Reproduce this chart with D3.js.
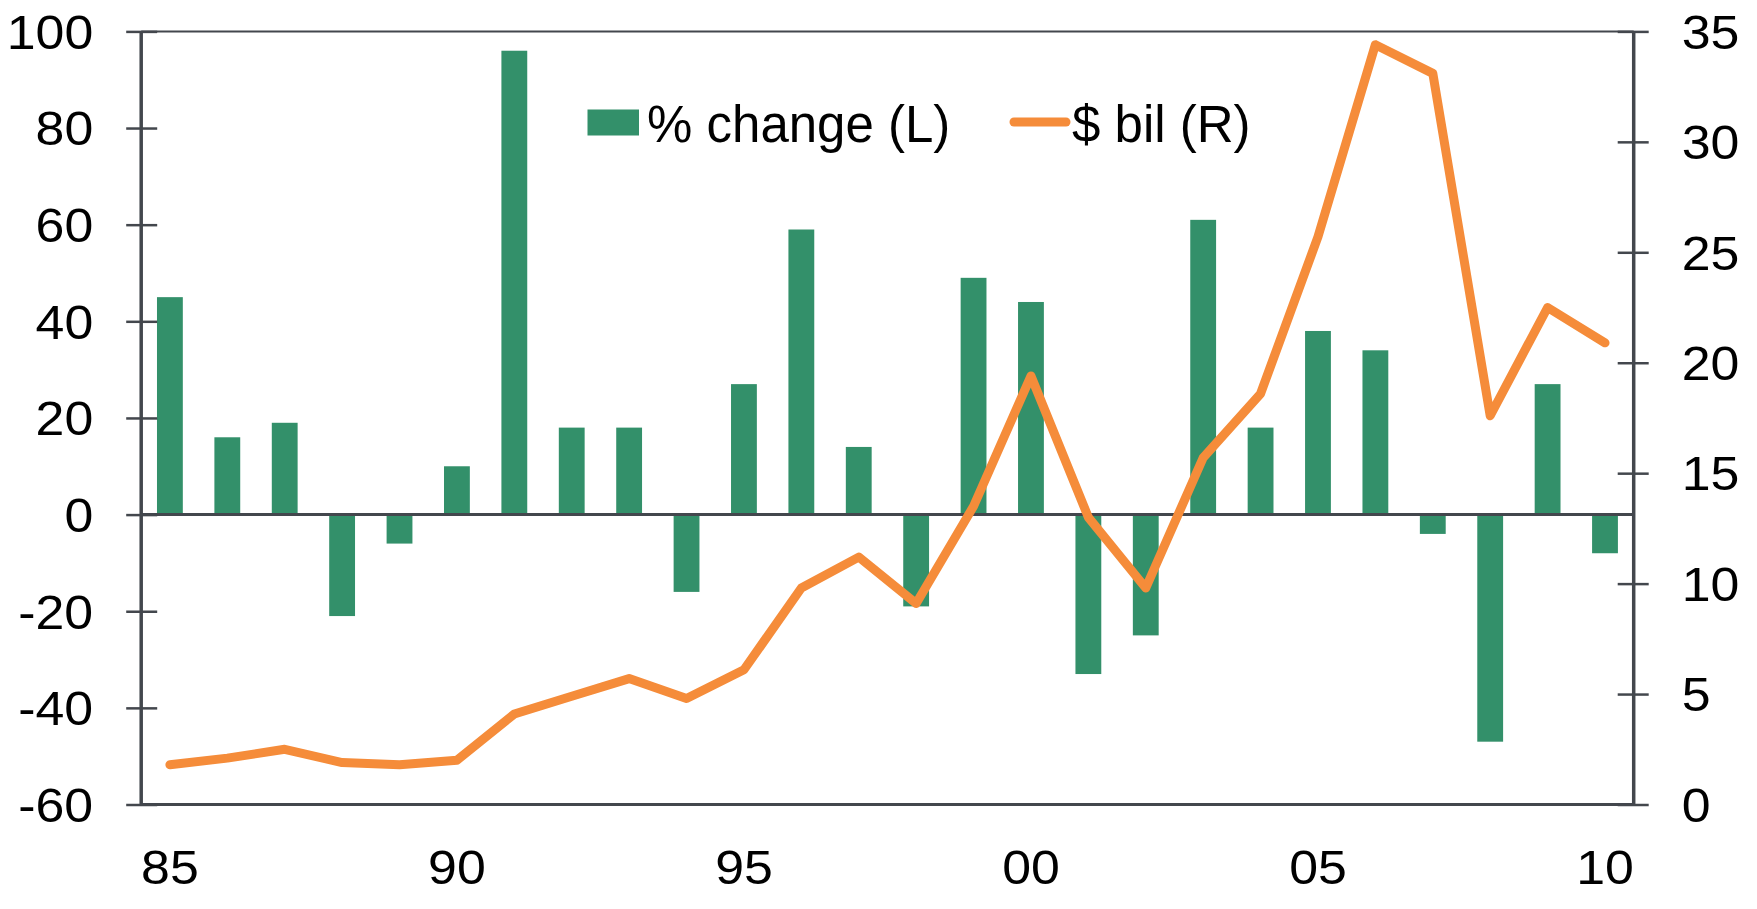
<!DOCTYPE html>
<html>
<head>
<meta charset="utf-8">
<script src="https://cdn.jsdelivr.net/npm/d3@7"></script>
<style>
  body { margin: 0; background: #fff; }
  svg { display: block; }
  .axis text { font-family: "Liberation Sans", Arial, sans-serif; font-size: 48px; fill: #000; }
  .legend text { font-family: "Liberation Sans", Arial, sans-serif; font-size: 51px; fill: #000; }
</style>
</head>
<body>
<svg id="chart" width="1757" height="909"></svg>
<script>
// data
var years = [1985, 1986, 1987, 1988, 1989, 1990, 1991, 1992, 1993, 1994, 1995, 1996, 1997,
             1998, 1999, 2000, 2001, 2002, 2003, 2004, 2005, 2006, 2007, 2008, 2009, 2010];
var pctChange = [45, 16, 19, -21, -6, 10, 96, 18, 18, -16, 27, 59, 14,
                 -19, 49, 44, -33, -25, 61, 18, 38, 34, -4, -47, 27, -8];
var dollarsBil = [1.8, 2.1, 2.5, 1.9, 1.8, 2.0, 4.1, 4.9, 5.7, 4.8, 6.1, 9.8, 11.2,
                  9.1, 13.5, 19.4, 13.0, 9.8, 15.7, 18.6, 25.7, 34.4, 33.1, 17.6, 22.5, 20.9];
var leftTicks = [-60, -40, -20, 0, 20, 40, 60, 80, 100];
var rightTicks = [0, 5, 10, 15, 20, 25, 30, 35];
var xTickYears = [1985, 1990, 1995, 2000, 2005, 2010];
var seriesNames = ["% change (L)", "$ bil (R)"];

var green = "#33906a";
var orange = "#f58c3a";
var axisColor = "#43474d";

var margin = {top: 31.4, right: 123.3, bottom: 104.5, left: 141.2};
var width = 1757 - margin.left - margin.right;
var height = 909 - margin.top - margin.bottom;
var stretch = 1.08;

var svg = d3.select("#chart");
var g = svg.append("g")
    .attr("transform", "translate(" + margin.left + "," + margin.top + ")");

var x = d3.scaleBand().domain(years).range([0, width])
    .paddingInner(0.55).paddingOuter(0.275);
var yL = d3.scaleLinear().domain([-60, 100]).range([height, 0]);
var yR = d3.scaleLinear().domain([0, 35]).range([height, 0]);

// bars
g.selectAll(".bar").data(years)
  .enter().append("rect")
    .attr("class", "bar")
    .attr("x", function(d) { return x(d); })
    .attr("width", x.bandwidth())
    .attr("y", function(d, i) { return yL(Math.max(0, pctChange[i])); })
    .attr("height", function(d, i) { return Math.abs(yL(pctChange[i]) - yL(0)); })
    .attr("fill", green);

// frame top, zero line, bottom
g.append("line")
    .attr("x1", 0).attr("x2", width)
    .attr("y1", 0).attr("y2", 0)
    .attr("stroke", axisColor).attr("stroke-width", 2);
g.append("line")
    .attr("x1", 0).attr("x2", width)
    .attr("y1", yL(0)).attr("y2", yL(0))
    .attr("stroke", axisColor).attr("stroke-width", 3);
g.append("line")
    .attr("x1", 0).attr("x2", width)
    .attr("y1", height).attr("y2", height)
    .attr("stroke", axisColor).attr("stroke-width", 3);

// axes
var plain = function(d) { return String(d); };
var yAxisL = d3.axisLeft(yL).tickValues(leftTicks).tickSize(15).tickFormat(plain);
var yAxisR = d3.axisRight(yR).tickValues(rightTicks).tickSize(15).tickFormat(plain);
var xAxis = d3.axisBottom(x).tickValues(xTickYears).tickSize(0)
    .tickFormat(function(d) { return d3.format("02d")(d % 100); });

var gl = g.append("g").attr("class", "axis axis--yl").call(yAxisL);
var gr = g.append("g").attr("class", "axis axis--yr")
    .attr("transform", "translate(" + width + ",0)").call(yAxisR);
var gx = g.append("g").attr("class", "axis axis--x")
    .attr("transform", "translate(0," + height + ")").call(xAxis);

gl.select(".domain").attr("stroke", axisColor).attr("stroke-width", 3.5).attr("d", "M0,0V" + height);
gr.select(".domain").attr("stroke", axisColor).attr("stroke-width", 3.5).attr("d", "M0,0V" + height);
gx.select(".domain").remove();

gl.selectAll(".tick line").attr("x1", 16).attr("stroke", axisColor).attr("stroke-width", 2.5);
gr.selectAll(".tick line").attr("x1", -16).attr("stroke", axisColor).attr("stroke-width", 2.5);

gl.selectAll(".tick text")
    .attr("x", -48 / stretch).attr("dy", "0.35em")
    .attr("transform", "scale(" + stretch + ",1)");
gr.selectAll(".tick text")
    .attr("x", 48 / stretch).attr("dy", "0.35em")
    .attr("transform", "scale(" + stretch + ",1)");
gx.selectAll(".tick text")
    .attr("y", 80).attr("dy", 0)
    .attr("transform", "scale(" + stretch + ",1)");
gx.selectAll(".tick").each(function(d) {
  var cx = x(d) + x.bandwidth() / 2;
  d3.select(this).attr("transform", "translate(" + cx + ",0)");
  d3.select(this).select("text").attr("x", 0);
});

// line
var line = d3.line()
    .x(function(d, i) { return x(years[i]) + x.bandwidth() / 2; })
    .y(function(d) { return yR(d); });

g.append("path")
    .datum(dollarsBil)
    .attr("d", line)
    .attr("fill", "none")
    .attr("stroke", orange)
    .attr("stroke-width", 9)
    .attr("stroke-linecap", "round")
    .attr("stroke-linejoin", "round");

// legend
var legend = svg.append("g").attr("class", "legend");
legend.append("rect")
    .attr("x", 587.5).attr("y", 109.5)
    .attr("width", 51.5).attr("height", 26)
    .attr("fill", green);
legend.append("text")
    .attr("x", 647).attr("y", 141.5)
    .text(seriesNames[0]);
legend.append("line")
    .attr("x1", 1014).attr("x2", 1066)
    .attr("y1", 122).attr("y2", 122)
    .attr("stroke", orange).attr("stroke-width", 9)
    .attr("stroke-linecap", "round");
legend.append("text")
    .attr("x", 1072).attr("y", 141.5)
    .text(seriesNames[1]);
</script>
</body>
</html>
